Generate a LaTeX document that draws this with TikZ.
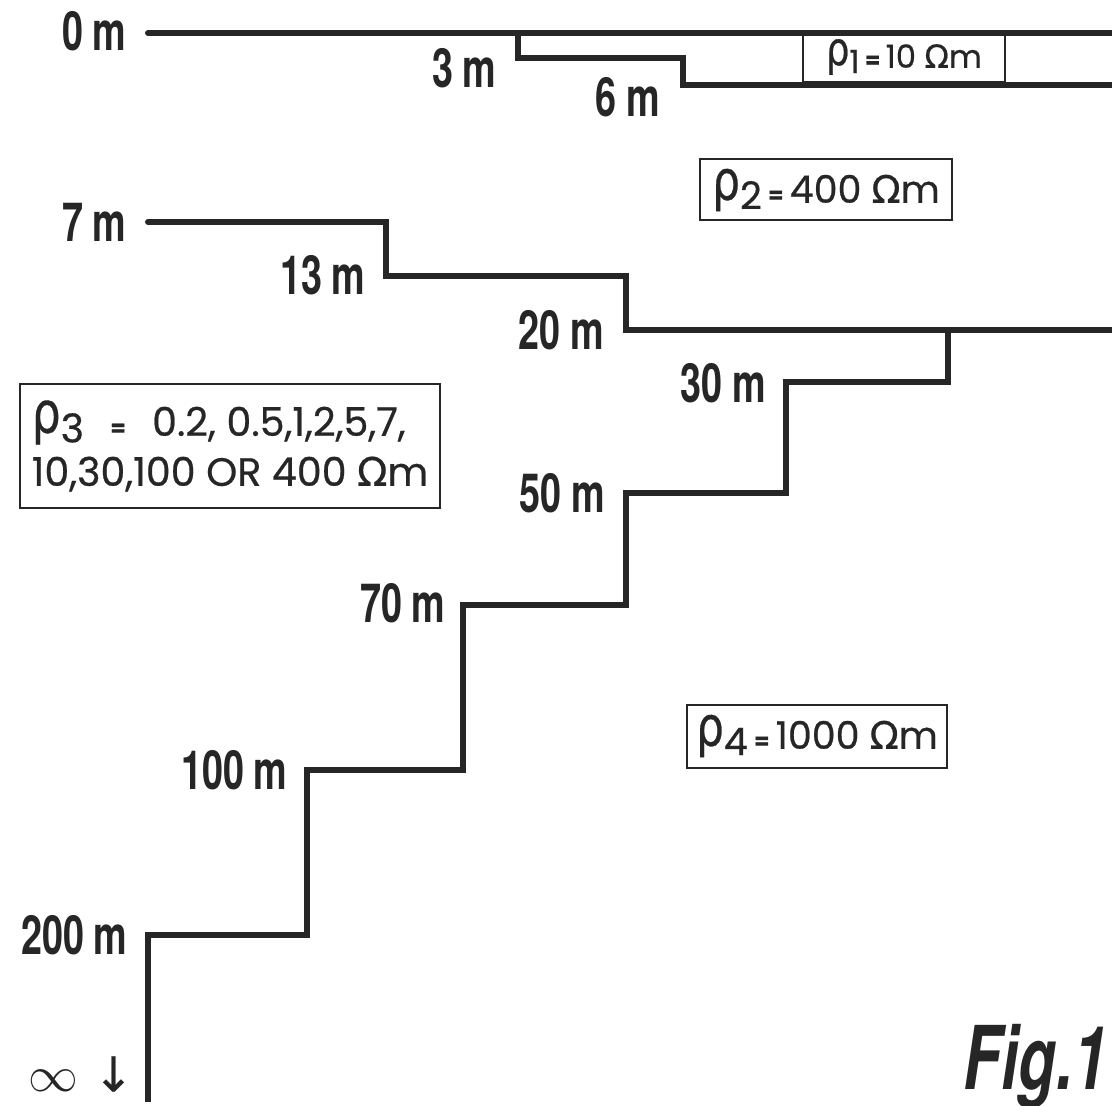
\documentclass[tikz,border=0pt]{standalone}
\usepackage{fontspec}
\usetikzlibrary{positioning}
\newfontfamily\depfont[FakeStretch=0.7]{TeX Gyre Heros}
\newfontfamily\boxfont[FakeBold=0.6]{Poppins}
\newfontfamily\grkfont[FakeBold=0.6]{DejaVu Sans}
\definecolor{geoInk}{HTML}{262626}
\newcommand{\rhoi}[1]{\raisebox{0.15ex}{\grkfont\scalebox{1.15}[1.45]{ρ}}\raisebox{-0.3ex}{#1}}
\newcommand{\eqs}{\,{\fontsize{11}{11}\selectfont\textbf{=}}\,}
\newcommand{\ohm}{{\grkfont Ω}m}
\tikzset{
  bnd/.style={draw=geoInk, line width=3pt, line join=miter},
  dep/.style={anchor=east, inner sep=0pt, text=geoInk, font=\depfont\bfseries\fontsize{27}{29}\selectfont},
  rbox/.style={draw=geoInk, line width=1pt, inner sep=3pt, text=geoInk, font=\boxfont\fontsize{19}{22}\selectfont},
  figlbl/.style={text=geoInk, inner sep=0pt, font=\depfont\bfseries\itshape\fontsize{44}{46}\selectfont},
}
\begin{document}
\begin{tikzpicture}[x=0.5pt,y=-0.5pt]
  \useasboundingbox (0,0) rectangle (1112,1106);
  % resistivity boxes
  \node[rbox, minimum width=101pt, minimum height=25pt, font=\boxfont\fontsize{16}{18}\selectfont] (r1) at (904,57) {\rhoi{1}\eqs 10 \ohm};
  \node[rbox, minimum width=126pt, minimum height=30.5pt] (r2) at (826,190) {\rhoi{2}\eqs 400 \ohm};
  \node[rbox, minimum width=210pt, minimum height=61.5pt, align=left, inner sep=4pt, font=\boxfont\fontsize{19.8}{25}\selectfont] (r3) at (230,446) {\rhoi{3}\enspace\eqs\enspace 0.2, 0.5,1,2,5,7,\\10,30,100 OR 400 \ohm};
  \node[rbox, minimum width=130pt, minimum height=31.5pt] (r4) at (817,736) {\rhoi{4}\eqs 1000 \ohm};
  % layer boundaries
  \draw[bnd, line cap=round] (148,33) -- (1112,33);
  \draw[bnd] (518,33) -- (518,58) -- (683,58) -- (683,85) -- (1112,85);
  \draw[bnd, line cap=round] (148,222) -- (386,222) -- (386,276) -- (626,276) -- (626,330) -- (1112,330);
  \draw[bnd] (948,330) -- (948,382) -- (786,382) -- (786,493) -- (626,493) -- (626,605)
    -- (463,605) -- (463,770) -- (307,770) -- (307,935) -- (148,935) -- (148,1102);
  % depth labels
  \node[dep] (d0) at (127,31) {0\,m};
  \node[dep] (d3) at (497,68) {3\,m};
  \node[dep] (d6) at (660,97) {6\,m};
  \node[dep] (d7) at (127,222) {7\,m};
  \node[dep] (d13) at (366,275) {13\,m};
  \node[dep] (d20) at (604,330) {20\,m};
  \node[dep] (d30) at (766,383) {30\,m};
  \node[dep] (d50) at (605,493) {50\,m};
  \node[dep] (d70) at (446,603) {70\,m};
  \node[dep] (d100) at (288,770) {100\,m};
  \node[dep] (d200) at (128,935) {200\,m};
  \node[text=geoInk, inner sep=0pt, anchor=east] (dinf) at (134,1074) {\fontsize{28}{28}\selectfont$\infty$\;{\grkfont\fontsize{24}{24}\selectfont ↓}};
  \node[figlbl, anchor=east] (fig) at (1108,1066) {Fig.1};
\end{tikzpicture}
\end{document}
